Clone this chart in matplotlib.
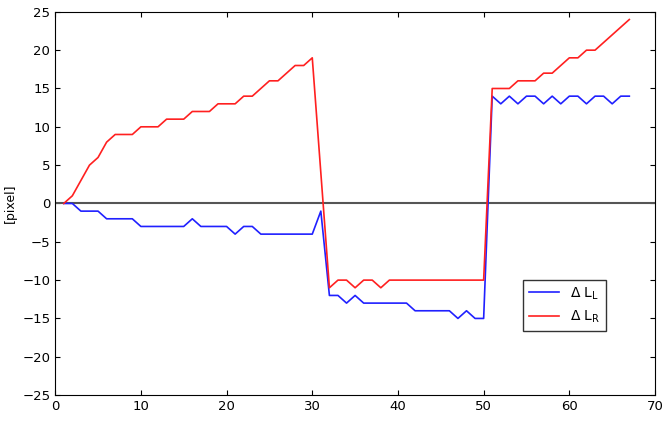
import numpy as np
import matplotlib
matplotlib.use("Agg")
import matplotlib.pyplot as plt

frames = np.arange(1, 68)
delta_l = [0, 0, -1, -1, -1, -2, -2, -2, -2, -3, -3, -3, -3, -3, -3, -2, -3, -3, -3, -3,
           -4, -3, -3, -4, -4, -4, -4, -4, -4, -4, -1,
           -12, -12, -13, -12, -13, -13, -13, -13, -13, -13, -14, -14, -14, -14, -14, -15,
           -14, -15, -15,
           14, 13, 14, 13, 14, 14, 13, 14, 13, 14, 14, 13, 14, 14, 13, 14, 14]
delta_r = [0, 1, 3, 5, 6, 8, 9, 9, 9, 10, 10, 10, 11, 11, 11, 12, 12, 12, 13, 13,
           13, 14, 14, 15, 16, 16, 17, 18, 18, 19, 4,
           -11, -10, -10, -11, -10, -10, -11, -10, -10, -10, -10, -10, -10, -10, -10, -10,
           -10, -10, -10,
           15, 15, 15, 16, 16, 16, 17, 17, 18, 19, 19, 20, 20, 21, 22, 23, 24]

fig = plt.figure(figsize=(6.65, 4.23), dpi=100)
ax = fig.add_axes([0.083, 0.066, 0.902, 0.906])
ax.axhline(0, color="#555555", linewidth=1.5)
ax.plot(frames, delta_l, color="#2020ff", linewidth=1.2, label=r"$\Delta$ L$_\mathrm{L}$")
ax.plot(frames, delta_r, color="#ff2020", linewidth=1.2, label=r"$\Delta$ L$_\mathrm{R}$")
ax.set_xlim(0, 70)
ax.set_ylim(-25, 25)
ax.set_xticks(range(0, 71, 10))
ax.set_yticks(range(-25, 26, 5))
ax.tick_params(direction="in", labelsize=9.5, top=True, right=True)
ax.set_ylabel("[pixel]", fontsize=9)
ax.legend(loc="lower right", bbox_to_anchor=(0.93, 0.15), fancybox=False,
          edgecolor="black", fontsize=10, handlelength=2.2)
fig.savefig("out.png", dpi=100)
